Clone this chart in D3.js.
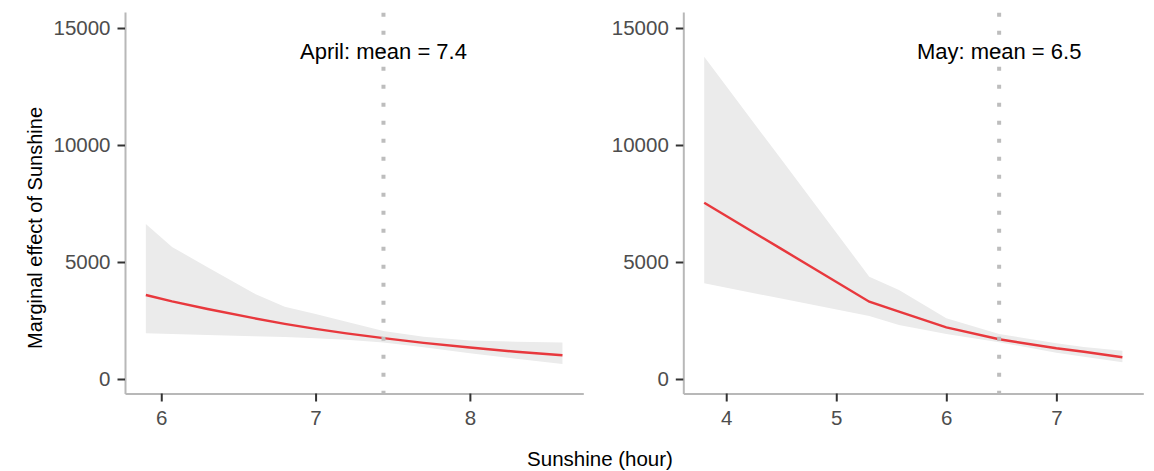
<!DOCTYPE html>
<html>
<head>
<meta charset="utf-8">
<script src="https://cdn.jsdelivr.net/npm/d3@7"></script>
<style>
  body { margin: 0; background: #fff; }
  text { font-family: "Liberation Sans", Arial, sans-serif; }
</style>
</head>
<body>
<svg id="chart" width="1154" height="471"></svg>
<script>
// Marginal effect of sunshine, April and May panels
const yTicks = [0, 5000, 10000, 15000];

const aprilX     = [5.9, 6.07, 6.3, 6.6, 6.8, 7.0, 7.2, 7.44, 7.7, 8.0, 8.3, 8.6];
const aprilFit   = [3590, 3315, 2990, 2600, 2355, 2140, 1950, 1745, 1545, 1345, 1165, 1015];
const aprilUpper = [6620, 5640, 4780, 3660, 3090, 2780, 2450, 2050, 1800, 1650, 1590, 1555];
const aprilLower = [1955, 1920, 1880, 1830, 1790, 1740, 1680, 1560, 1360, 1100, 870, 640];
const aprilTicks = [6, 7, 8];
const aprilMean  = 7.44;

const mayX     = [3.8, 4.5, 5.3, 5.57, 6.0, 6.48, 7.0, 7.25, 7.6];
const mayFit   = [7535, 5560, 3305, 2877, 2209, 1697, 1312, 1167, 927];
const mayUpper = [13774, 9386, 4372, 3800, 2593, 1923, 1526, 1370, 1209];
const mayLower = [4090, 3437, 2690, 2308, 1923, 1568, 1124, 950, 714];
const mayTicks = [4, 5, 6, 7];
const mayMean  = 6.48;

const panelLabels = ["April: mean = 7.4", "May: mean = 6.5"];
const xTitle = "Sunshine (hour)";
const yTitle = "Marginal effect of Sunshine";
const labelY = 14000;

const svg = d3.select("#chart");
const plotTop = 12, plotBottom = 393.5;
const y = d3.scaleLinear().domain([-620, 15684]).range([plotBottom, plotTop]);
const plain = d3.format("d");

function expand(ext) {
  const pad = (ext[1] - ext[0]) * 0.05;
  return [ext[0] - pad, ext[1] + pad];
}

const panels = [
  { xs: aprilX, fit: aprilFit, hi: aprilUpper, lo: aprilLower, ticks: aprilTicks,
    mean: aprilMean, label: panelLabels[0], left: 125, right: 583.3 },
  { xs: mayX, fit: mayFit, hi: mayUpper, lo: mayLower, ticks: mayTicks,
    mean: mayMean, label: panelLabels[1], left: 683.3, right: 1143.3 }
];

panels.forEach(p => {
  const x = d3.scaleLinear().domain(expand(d3.extent(p.xs))).range([p.left, p.right]);
  const rows = p.xs.map((v, i) => ({ x: v, fit: p.fit[i], hi: p.hi[i], lo: p.lo[i] }));
  const g = svg.append("g");

  // confidence band
  g.append("path")
    .datum(rows)
    .attr("fill", "#ebebeb")
    .attr("d", d3.area().x(d => x(d.x)).y0(d => y(d.lo)).y1(d => y(d.hi)));

  // fitted effect
  g.append("path")
    .datum(rows)
    .attr("fill", "none")
    .attr("stroke", "#e8383d")
    .attr("stroke-width", 2.4)
    .attr("d", d3.line().x(d => x(d.x)).y(d => y(d.fit)));

  // mean marker
  g.append("line")
    .attr("x1", x(p.mean)).attr("x2", x(p.mean))
    .attr("y1", plotTop + 0.7).attr("y2", plotBottom)
    .attr("stroke", "#bdbdbd")
    .attr("stroke-width", 4)
    .attr("stroke-dasharray", "4 14");

  g.append("text")
    .attr("x", x(p.mean))
    .attr("y", y(labelY) + 8)
    .attr("text-anchor", "middle")
    .attr("font-size", 22)
    .attr("fill", "#000")
    .text(p.label);

  // axes
  const ya = g.append("g")
    .attr("transform", `translate(${p.left},0)`)
    .call(d3.axisLeft(y).tickValues(yTicks).tickFormat(plain)
      .tickSize(7.5).tickSizeOuter(0).tickPadding(7));
  const xa = g.append("g")
    .attr("transform", `translate(0,${plotBottom})`)
    .call(d3.axisBottom(x).tickValues(p.ticks).tickFormat(plain)
      .tickSize(8).tickSizeOuter(0).tickPadding(8.5));

  [ya, xa].forEach(a => {
    a.attr("font-size", null).attr("font-family", null);
    a.select(".domain").attr("stroke", "#b8b8b8").attr("stroke-width", 2);
    a.selectAll(".tick line").attr("stroke", "#333").attr("stroke-width", 2);
    a.selectAll(".tick text").attr("fill", "#4d4d4d").attr("font-size", 20.5);
  });
});

svg.append("text")
  .attr("x", 600)
  .attr("y", 466)
  .attr("text-anchor", "middle")
  .attr("font-size", 20.5)
  .attr("fill", "#000")
  .text(xTitle);

svg.append("text")
  .attr("transform", "translate(41.5,228) rotate(-90)")
  .attr("text-anchor", "middle")
  .attr("font-size", 20)
  .attr("fill", "#000")
  .text(yTitle);
</script>
</body>
</html>
